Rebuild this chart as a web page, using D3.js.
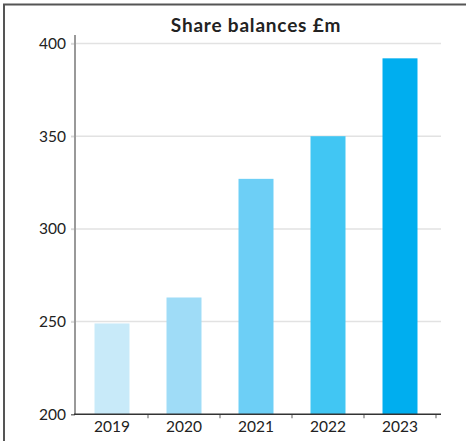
<!DOCTYPE html>
<html>
<head>
<meta charset="utf-8">
<script src="https://cdn.jsdelivr.net/npm/d3@7"></script>
<style>
  html, body { margin: 0; padding: 0; background: #fff; }
  svg { display: block; }
  text { font-family: Lato, "Open Sans", sans-serif; fill: #222; }
</style>
</head>
<body>
<svg id="chart" width="466" height="441"></svg>
<script>
// Share balances by year, £m
const years = ["2019", "2020", "2021", "2022", "2023"];
const balances = [249, 263, 327, 350, 392];
const barColors = ["#c8eaf9", "#9fdcf7", "#6dcff6", "#41c6f3", "#00aeef"];
const yTicks = [200, 250, 300, 350, 400];
const title = "Share balances £m";

const svg = d3.select("#chart");
const W = 466, H = 441;
const plot = { left: 76, right: 436, top: 43.5, bottom: 414.3, axisEnd: 441 };

const x = d3.scaleBand()
  .domain(years)
  .range([plot.left, plot.right])
  .paddingInner(0.514)
  .paddingOuter(0.257);

const y = d3.scaleLinear()
  .domain([200, 400])
  .range([plot.bottom, plot.top]);

// outer frame (top and left edges)
svg.append("path")
  .attr("d", `M4,${H} L4,4.5 L${W},4.5`)
  .attr("fill", "none")
  .attr("stroke", "#555")
  .attr("stroke-width", 2);

// title
svg.append("text")
  .attr("x", 256)
  .attr("y", 32)
  .attr("text-anchor", "middle")
  .attr("font-size", 19)
  .attr("font-weight", "bold")
  .attr("letter-spacing", 0.8)
  .text(title);

// horizontal gridlines with small ticks left of the axis
svg.append("g")
  .selectAll("line")
  .data(yTicks.filter(d => d > 200))
  .join("line")
  .attr("x1", 71)
  .attr("x2", plot.axisEnd)
  .attr("y1", d => y(d))
  .attr("y2", d => y(d))
  .attr("stroke", "#e2e2e2")
  .attr("stroke-width", 1.5);

// bars
svg.append("g")
  .selectAll("rect")
  .data(years)
  .join("rect")
  .attr("x", d => x(d))
  .attr("width", x.bandwidth())
  .attr("y", (d, i) => y(balances[i]))
  .attr("height", (d, i) => y(200) - y(balances[i]))
  .attr("fill", (d, i) => barColors[i]);

// y axis
const yAxis = svg.append("g")
  .attr("transform", `translate(75,0)`)
  .call(d3.axisLeft(y).tickValues(yTicks).tickSize(4).tickPadding(5));
yAxis.select(".domain").remove();
yAxis.selectAll(".tick line").attr("stroke", "#d8d8d8").attr("stroke-width", 1.5);
yAxis.selectAll(".tick text")
  .attr("font-size", 15.5)
  .attr("fill", "#222")
  .attr("font-family", "Lato, 'Open Sans', sans-serif");
yAxis.selectAll(".tick").filter(d => d === 200).select("line").attr("stroke", "#555").attr("stroke-width", 1.2);

svg.append("line")
  .attr("x1", 75).attr("x2", 75)
  .attr("y1", 35).attr("y2", plot.bottom)
  .attr("stroke", "#999")
  .attr("stroke-width", 2);

// x axis baseline, category boundary ticks and year labels
const boundaries = d3.range(1, years.length + 1).map(i => plot.left + i * x.step());
svg.append("g")
  .selectAll("line")
  .data(boundaries)
  .join("line")
  .attr("x1", d => d).attr("x2", d => d)
  .attr("y1", plot.bottom).attr("y2", plot.bottom + 4)
  .attr("stroke", "#777")
  .attr("stroke-width", 1.2);

svg.append("line")
  .attr("x1", 74).attr("x2", plot.axisEnd)
  .attr("y1", plot.bottom).attr("y2", plot.bottom)
  .attr("stroke", "#333")
  .attr("stroke-width", 1.4);

svg.append("g")
  .selectAll("text")
  .data(years)
  .join("text")
  .attr("x", d => x(d) + x.bandwidth() / 2)
  .attr("y", 432)
  .attr("text-anchor", "middle")
  .attr("font-size", 15.5)
  .text(d => d);
</script>
</body>
</html>
